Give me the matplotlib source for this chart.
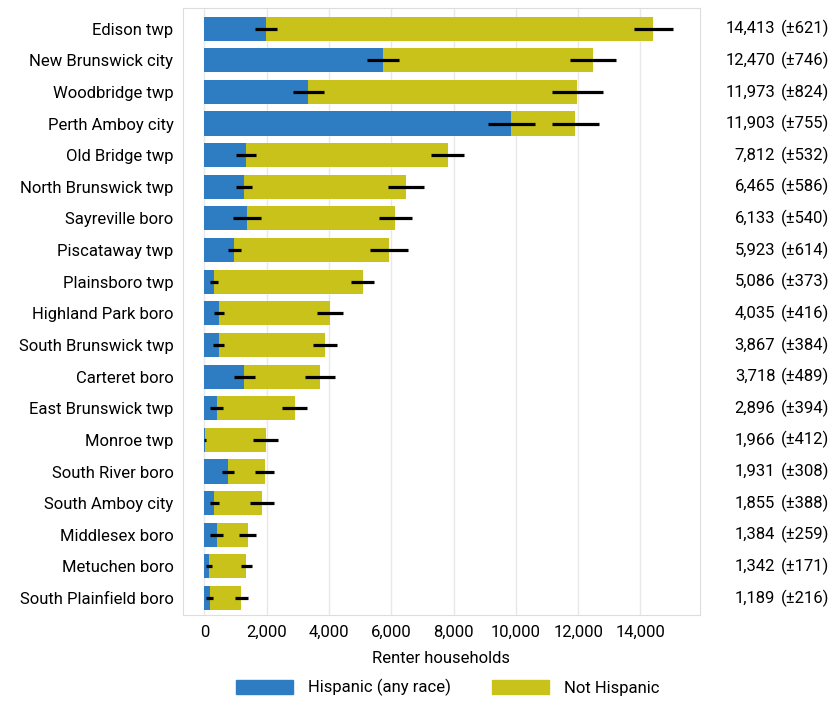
import numpy as np
import matplotlib
matplotlib.use("Agg")
import matplotlib.pyplot as plt
from matplotlib.patches import Patch

plt.rcParams['font.family'] = ['Roboto', 'DejaVu Sans']

# Data
places = ["Edison twp", "New Brunswick city", "Woodbridge twp", "Perth Amboy city",
          "Old Bridge twp", "North Brunswick twp", "Sayreville boro", "Piscataway twp",
          "Plainsboro twp", "Highland Park boro", "South Brunswick twp", "Carteret boro",
          "East Brunswick twp", "Monroe twp", "South River boro", "South Amboy city",
          "Middlesex boro", "Metuchen boro", "South Plainfield boro"]
total = [14413, 12470, 11973, 11903, 7812, 6465, 6133, 5923, 5086, 4035,
         3867, 3718, 2896, 1966, 1931, 1855, 1384, 1342, 1189]
total_moe = [621, 746, 824, 755, 532, 586, 540, 614, 373, 416,
             384, 489, 394, 412, 308, 388, 259, 171, 216]
hispanic = [1970, 5730, 3330, 9850, 1340, 1280, 1380, 960, 320, 460,
            460, 1280, 390, 20, 750, 320, 390, 140, 170]
hispanic_moe = [360, 520, 500, 755, 310, 255, 450, 210, 130, 160,
                170, 330, 220, 20, 190, 150, 200, 100, 120]

blue = "#2e7dc2"
olive = "#c8c21b"

fig = plt.figure(figsize=(8.29, 7.03), dpi=100)
ax = fig.add_axes([0.221, 0.125, 0.623, 0.864])

y = np.arange(len(places))
total = np.array(total)
hispanic = np.array(hispanic)
not_hisp = total - hispanic

ax.barh(y, hispanic, height=0.76, color=blue, zorder=2)
ax.barh(y, not_hisp, left=hispanic, height=0.76, color=olive, zorder=2)
ax.errorbar(hispanic, y, xerr=hispanic_moe, fmt="none", ecolor="black", elinewidth=2.3, capsize=0, zorder=3)
ax.errorbar(total, y, xerr=total_moe, fmt="none", ecolor="black", elinewidth=2.3, capsize=0, zorder=3)

ax.set_yticks(y)
ax.set_yticklabels(places, fontsize=12)
ax.set_ylim(len(places) - 0.46, -0.66)
ax.set_xlim(-680, 15900)
ax.set_xticks(np.arange(0, 14001, 2000))
ax.set_xticklabels([f"{v:,}" for v in range(0, 14001, 2000)], fontsize=12)
ax.tick_params(length=0, pad=7)
ax.set_xlabel("Renter households", fontsize=12, labelpad=8)
ax.grid(axis="x", color="#e8e8e8", linewidth=1, zorder=0)
for s in ax.spines.values():
    s.set_color("#dddddd")

# totals with margin of error, right of the plot (offsets in points: 1 pt = 1.389 px)
for i in range(len(places)):
    ax.annotate(f"{total[i]:,}", xy=(1, i), xycoords=("axes fraction", "data"),
                xytext=(54.5, 0), textcoords="offset points", ha="right", va="center",
                fontsize=12, annotation_clip=False)
    ax.annotate(f"(±{total_moe[i]})", xy=(1, i), xycoords=("axes fraction", "data"),
                xytext=(58.5, 0), textcoords="offset points", ha="left", va="center",
                fontsize=12, annotation_clip=False)

handles = [Patch(color=blue, label="Hispanic (any race)"),
           Patch(color=olive, label="Not Hispanic")]
fig.legend(handles=handles, loc="lower center", bbox_to_anchor=(0.54, -0.012), ncol=2,
           frameon=False, fontsize=12, handlelength=3.4, handleheight=0.9,
           columnspacing=2.5, handletextpad=0.9)

fig.savefig("out.png", dpi=100)
